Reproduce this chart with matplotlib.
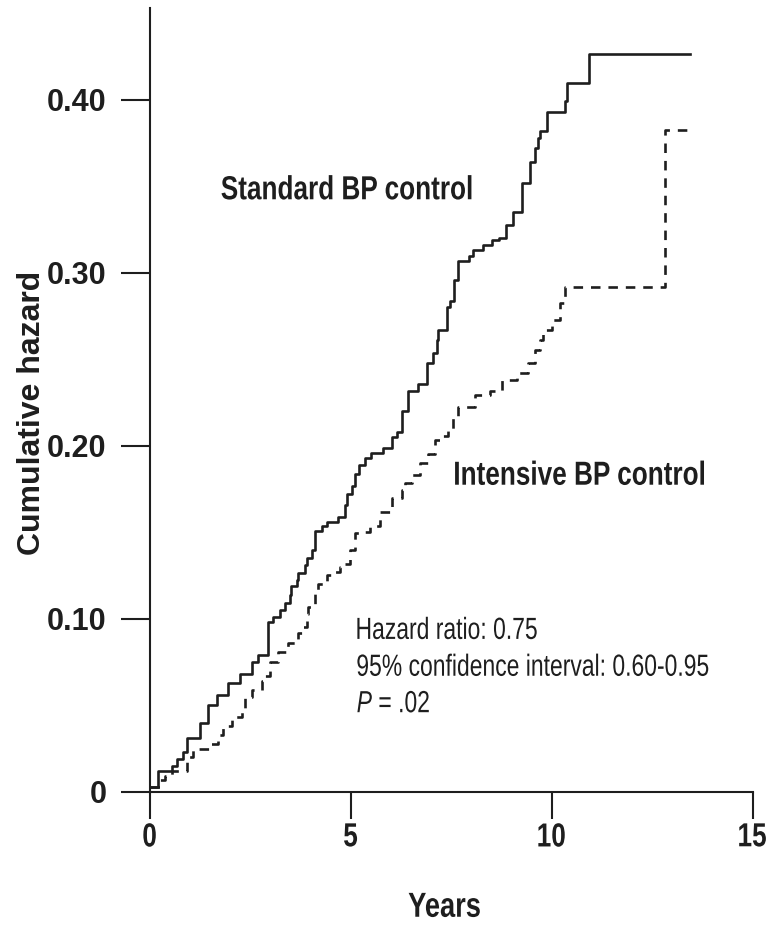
import matplotlib
matplotlib.use("Agg")
import matplotlib.pyplot as plt
import matplotlib.transforms as mtrans
from matplotlib.textpath import TextPath
from matplotlib.patches import PathPatch
from matplotlib.font_manager import FontProperties

plt.rcParams["mathtext.fontset"] = "custom"
plt.rcParams["mathtext.rm"] = "Liberation Sans"
plt.rcParams["mathtext.it"] = "Liberation Sans:italic"

# Cumulative hazard step curves, read as (time in years, hazard after the step)
std_years = [0, 0.22, 0.55, 0.67, 0.84, 0.92, 1.25, 1.46, 1.67, 1.96, 2.25, 2.54, 2.70,
             2.95, 3.08, 3.24, 3.37, 3.50, 3.53, 3.66, 3.70, 3.87, 3.91, 4.03, 4.12, 4.28,
             4.41, 4.69, 4.86, 4.90, 5.03, 5.10, 5.20, 5.36, 5.52, 5.81, 6.02, 6.15, 6.27,
             6.44, 6.68, 6.89, 7.06, 7.14, 7.18, 7.39, 7.47, 7.58, 7.68, 7.95, 8.04, 8.29,
             8.53, 8.69, 8.87, 9.04, 9.26, 9.46, 9.59, 9.66, 9.71, 9.88, 10.33, 10.38, 10.93]
std_hazard = [0.003, 0.012, 0.015, 0.019, 0.023, 0.031, 0.040, 0.050, 0.056, 0.063, 0.068,
              0.075, 0.079, 0.098, 0.101, 0.105, 0.109, 0.114, 0.119, 0.1225, 0.1265, 0.131,
              0.135, 0.140, 0.151, 0.154, 0.156, 0.159, 0.166, 0.172, 0.177, 0.184, 0.189,
              0.193, 0.196, 0.199, 0.205, 0.208, 0.220, 0.232, 0.236, 0.248, 0.2535, 0.261,
              0.267, 0.2805, 0.284, 0.296, 0.307, 0.310, 0.3135, 0.316, 0.319, 0.3205, 0.328,
              0.335, 0.352, 0.364, 0.372, 0.378, 0.382, 0.393, 0.3995, 0.410, 0.4266]
std_end = 13.45

int_years = [0, 0.26, 0.38, 0.55, 0.92, 1.08, 1.54, 1.71, 1.83, 2.04, 2.29, 2.37, 2.54,
             2.79, 2.87, 3.00, 3.20, 3.45, 3.70, 3.82, 3.91, 3.95, 4.11, 4.20, 4.41, 4.61,
             4.74, 4.86, 4.98, 5.11, 5.36, 5.48, 5.73, 6.02, 6.27, 6.35, 6.52, 6.73, 6.93,
             7.10, 7.27, 7.43, 7.55, 7.68, 8.09, 8.47, 8.76, 9.13, 9.42, 9.59, 9.71, 9.79,
             10.00, 10.21, 10.33, 12.82]
int_hazard = [0.003, 0.007, 0.009, 0.012, 0.020, 0.025, 0.028, 0.033, 0.038, 0.0435, 0.048,
              0.055, 0.059, 0.064, 0.067, 0.075, 0.081, 0.086, 0.092, 0.0955, 0.103, 0.107,
              0.117, 0.120, 0.1255, 0.127, 0.130, 0.132, 0.140, 0.1495, 0.150, 0.154, 0.162,
              0.170, 0.1745, 0.1785, 0.183, 0.190, 0.1955, 0.2035, 0.2055, 0.209, 0.217,
              0.2225, 0.2295, 0.2315, 0.238, 0.242, 0.248, 0.2555, 0.261, 0.267, 0.273,
              0.2825, 0.292, 0.3827]
int_end = 13.49

x_ticks = [0, 5, 10, 15]
y_ticks = [0, 0.10, 0.20, 0.30, 0.40]
y_ticklabels = ["0", "0.10", "0.20", "0.30", "0.40"]

stats_lines = ["Hazard ratio: 0.75", "95% confidence interval: 0.60-0.95", "$\\it{P}$ = .02"]

INK = "#1e1e1e"
FONT = "Liberation Sans"

fig = plt.figure(figsize=(7.69, 9.25), dpi=100)
ax = fig.add_axes([0.1945, 0.1438, 0.7841, 0.8476])
PX = fig.dpi / 72.0


def narrow_text(x, y, s, size, trans, weight="bold", sx=0.785, ha="left", dy=0):
    # condensed lettering: glyph outlines squeezed horizontally, centred vertically
    path = TextPath((0, 0), s, size=size, prop=FontProperties(family=FONT, weight=weight))
    ext = path.get_extents()
    ox = {"left": -ext.x0, "center": -(ext.x0 + ext.x1) / 2, "right": -ext.x1}[ha]
    oy = -(ext.y0 + ext.y1) / 2
    t = (mtrans.Affine2D().translate(ox, oy).scale(sx * PX, PX).translate(0, dy)
         + mtrans.ScaledTranslation(x, y, trans))
    fig.add_artist(PathPatch(path, transform=t, facecolor=INK, edgecolor="none",
                             lw=0, clip_on=False))


ax.step(std_years + [std_end], std_hazard + [std_hazard[-1]], where="post",
        color=INK, lw=1.9)
ax.step(int_years + [int_end], int_hazard + [int_hazard[-1]], where="post",
        color=INK, lw=1.9, dashes=(3.6, 3.0))

ax.set_xlim(0, 15)
ax.set_ylim(0, 0.4532)
for side in ["top", "right"]:
    ax.spines[side].set_visible(False)
for side in ["left", "bottom"]:
    ax.spines[side].set_linewidth(1.5)
    ax.spines[side].set_color(INK)

ax.set_xticks(x_ticks)
ax.set_yticks(y_ticks)
ax.set_yticklabels(y_ticklabels, family=FONT, fontweight="bold", fontsize=22, color=INK)
ax.tick_params(axis="x", direction="out", length=19.5, width=1.5, color=INK,
               labelbottom=False)
ax.tick_params(axis="y", direction="out", length=21, width=1.5, pad=10, color=INK)

xaxis_trans = ax.get_xaxis_transform()
for v in x_ticks:
    narrow_text(v, 0, str(v), 24, xaxis_trans, ha="center", dy=-43)
narrow_text(7.33, 0, "Years", 25, xaxis_trans, ha="center", dy=-113)

fig.text(32 / 769, 1 - 413 / 925, "Cumulative hazard", family=FONT, fontweight="bold",
         fontsize=23, rotation=90, ha="center", va="center", color=INK)

narrow_text(1.79, 0.3495, "Standard BP control", 24, ax.transData)
narrow_text(7.6, 0.1845, "Intensive BP control", 24, ax.transData)

for i, line in enumerate(stats_lines):
    narrow_text(5.17, 0.0948 - i * 0.0213, line, 22, ax.transData, weight="normal", sx=0.75)

fig.savefig("out.png", dpi=100)
